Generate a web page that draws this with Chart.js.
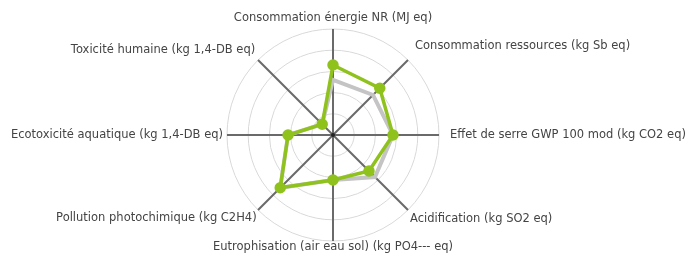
<!DOCTYPE html>
<html>
<head>
<meta charset="utf-8">
<script src="https://cdn.jsdelivr.net/npm/chart.js@4/dist/chart.umd.min.js"></script>
<style>
  html, body { margin: 0; padding: 0; background: #fff; }
  #wrap { width: 695px; height: 253px; position: relative; }
</style>
</head>
<body>
<div id="wrap"><canvas id="radarChart"></canvas></div>
<script>
// categories (clockwise from top)
const categories = [
    'Consommation énergie NR (MJ eq)',
    'Consommation ressources (kg Sb eq)',
    'Effet de serre GWP 100 mod (kg CO2 eq)',
    'Acidification (kg SO2 eq)',
    'Eutrophisation (air eau sol) (kg PO4--- eq)',
    'Pollution photochimique (kg C2H4)',
    'Ecotoxicité aquatique (kg 1,4-DB eq)',
    'Toxicité humaine (kg 1,4-DB eq)'
];
const greenValues = [3.3, 3.12, 2.83, 2.4, 2.12, 3.52, 2.12, 0.72];
const greyValues = [2.6, 2.67, 2.83, 2.8, 2.12, 3.52, 2.12, 0.72];

// gap between each label and the outer ring
const labelGaps = [4, 10, 11, 3, -1, 2, 4, 4];

// where the radar sits in the canvas (labels are allowed to reach the edges)
const CX = 333, CY = 135, RADIUS = 106;

// small dot at the centre of the radar
const centreDot = {
    id: 'centreDot',
    afterDatasetsDraw(chart) {
        const s = chart.scales.r;
        const ctx = chart.ctx;
        ctx.save();
        ctx.fillStyle = '#222';
        ctx.beginPath();
        ctx.arc(s.xCenter, s.yCenter, 2, 0, Math.PI * 2);
        ctx.fill();
        ctx.restore();
    }
};

document.addEventListener('DOMContentLoaded', function () {
    const ctx = document.getElementById('radarChart').getContext('2d');
    new Chart(ctx, {
        type: 'radar',
        data: {
            labels: categories,
            datasets: [{
                data: greenValues,
                borderColor: '#8fc21c',
                backgroundColor: 'rgba(0,0,0,0)',
                borderWidth: 3.5,
                pointRadius: 4,
                pointBackgroundColor: '#8fc21c',
                pointBorderColor: '#8fc21c',
                fill: false
            }, {
                data: greyValues,
                borderColor: '#c4c4c4',
                backgroundColor: 'rgba(0,0,0,0)',
                borderWidth: 4,
                pointRadius: 0,
                fill: false
            }]
        },
        options: {
            responsive: true,
            maintainAspectRatio: false,
            animation: false,
            plugins: { legend: { display: false }, tooltip: { enabled: false } },
            scales: {
                r: {
                    min: 0,
                    max: 5,
                    ticks: { display: false, stepSize: 1 },
                    grid: { circular: true, color: '#d9d9d9', lineWidth: 1 },
                    angleLines: { color: '#6a6a6a', lineWidth: 2 },
                    pointLabels: {
                        color: '#444',
                        padding: (c) => labelGaps[c.index],
                        font: { family: 'DejaVu Sans', size: 11.5 }
                    },
                    afterSetDimensions(scale) {
                        // widen the fitting box so the long labels do not shrink the radar
                        scale.left -= 60;
                        scale.right += 60;
                        scale.top -= 30;
                        scale.bottom += 30;
                        scale.xCenter = CX;
                        scale.yCenter = CY;
                        scale.drawingArea = RADIUS;
                    }
                }
            }
        },
        plugins: [centreDot]
    });
});
</script>
</body>
</html>
